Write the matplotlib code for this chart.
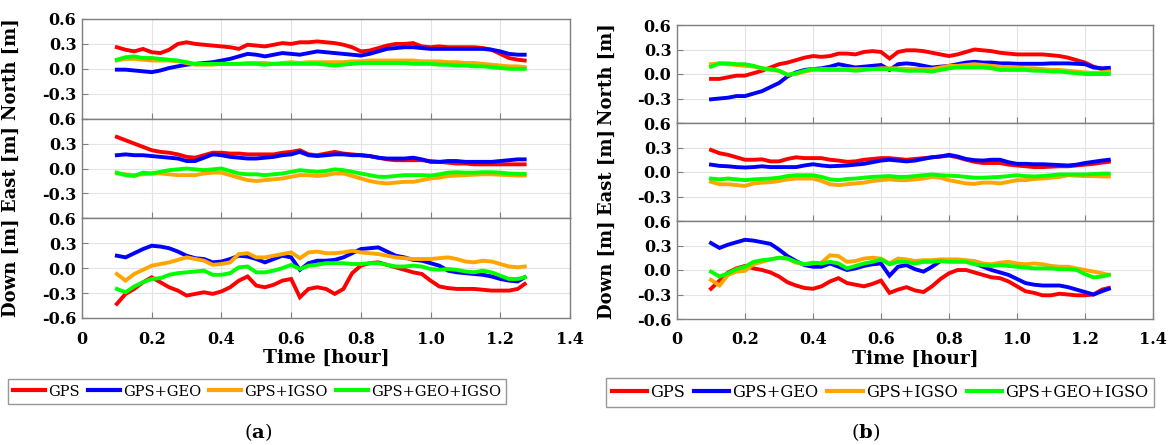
import numpy as np
import matplotlib
matplotlib.use("Agg")
import matplotlib.pyplot as plt
from matplotlib.lines import Line2D

# time grid [hour] shared by every series
time_h = [0.100, 0.125, 0.150, 0.175, 0.200, 0.225, 0.250, 0.275, 0.300, 0.325,
          0.350, 0.375, 0.400, 0.425, 0.450, 0.475, 0.500, 0.525, 0.550, 0.575,
          0.600, 0.625, 0.650, 0.675, 0.700, 0.725, 0.750, 0.775, 0.800, 0.825,
          0.850, 0.875, 0.900, 0.925, 0.950, 0.975, 1.000, 1.025, 1.050, 1.075,
          1.100, 1.125, 1.150, 1.175, 1.200, 1.225, 1.250, 1.270]

series_names = ["GPS", "GPS+GEO", "GPS+IGSO", "GPS+GEO+IGSO"]
series_colors = ["#ff0000", "#0000ff", "#ffa500", "#00ff00"]
component_labels = ["North [m]", "East [m]", "Down [m]"]
panel_labels = ["a", "b"]
x_ticks = [0, 0.2, 0.4, 0.6, 0.8, 1.0, 1.2, 1.4]
x_tick_labels = ["0", "0.2", "0.4", "0.6", "0.8", "1.0", "1.2", "1.4"]
y_ticks = [-0.6, -0.3, 0.0, 0.3, 0.6]
y_tick_labels = ["-0.6", "-0.3", "0.0", "0.3", "0.6"]

# ---- panel (a) ----
a_north_gps = [0.26, 0.23, 0.21, 0.24, 0.20, 0.19, 0.23, 0.30, 0.32, 0.30, 0.29, 0.28, 0.27, 0.26, 0.24, 0.29,
               0.28, 0.27, 0.29, 0.31, 0.30, 0.32, 0.32, 0.33, 0.32, 0.31, 0.29, 0.26, 0.21, 0.22, 0.25, 0.28,
               0.30, 0.30, 0.31, 0.27, 0.26, 0.27, 0.26, 0.26, 0.26, 0.26, 0.25, 0.23, 0.18, 0.13, 0.11, 0.10]
a_north_geo = [-0.01, -0.01, -0.02, -0.03, -0.04, -0.02, 0.01, 0.03, 0.05, 0.06, 0.07, 0.08, 0.10, 0.12, 0.15, 0.18,
               0.17, 0.15, 0.17, 0.19, 0.18, 0.17, 0.19, 0.21, 0.20, 0.19, 0.18, 0.17, 0.16, 0.18, 0.21, 0.24,
               0.25, 0.26, 0.26, 0.25, 0.24, 0.24, 0.24, 0.24, 0.24, 0.24, 0.24, 0.23, 0.21, 0.18, 0.17, 0.17]
a_north_igso = [0.10, 0.12, 0.12, 0.11, 0.10, 0.10, 0.10, 0.09, 0.07, 0.05, 0.05, 0.05, 0.06, 0.06, 0.06, 0.07,
                0.07, 0.07, 0.06, 0.07, 0.08, 0.07, 0.08, 0.08, 0.08, 0.08, 0.08, 0.09, 0.09, 0.10, 0.10, 0.10,
                0.10, 0.10, 0.10, 0.09, 0.09, 0.09, 0.08, 0.08, 0.07, 0.07, 0.06, 0.05, 0.04, 0.03, 0.03, 0.02]
a_north_all = [0.11, 0.14, 0.15, 0.13, 0.13, 0.12, 0.11, 0.10, 0.08, 0.06, 0.06, 0.06, 0.06, 0.06, 0.06, 0.06,
               0.06, 0.05, 0.06, 0.06, 0.06, 0.06, 0.06, 0.06, 0.05, 0.04, 0.05, 0.06, 0.07, 0.07, 0.07, 0.07,
               0.07, 0.07, 0.06, 0.06, 0.06, 0.05, 0.05, 0.04, 0.04, 0.03, 0.03, 0.02, 0.01, 0.00, 0.00, 0.00]

a_east_gps = [0.38, 0.34, 0.30, 0.26, 0.22, 0.20, 0.19, 0.17, 0.14, 0.13, 0.16, 0.19, 0.19, 0.18, 0.18, 0.17,
              0.17, 0.17, 0.17, 0.19, 0.20, 0.22, 0.17, 0.16, 0.18, 0.20, 0.18, 0.17, 0.16, 0.15, 0.13, 0.11,
              0.10, 0.10, 0.10, 0.10, 0.09, 0.08, 0.07, 0.06, 0.06, 0.05, 0.05, 0.05, 0.05, 0.05, 0.05, 0.05]
a_east_geo = [0.16, 0.17, 0.16, 0.16, 0.15, 0.14, 0.13, 0.12, 0.09, 0.09, 0.13, 0.17, 0.16, 0.14, 0.13, 0.12,
              0.12, 0.13, 0.14, 0.16, 0.17, 0.20, 0.16, 0.15, 0.16, 0.17, 0.17, 0.16, 0.16, 0.15, 0.13, 0.12,
              0.12, 0.12, 0.13, 0.11, 0.08, 0.08, 0.09, 0.09, 0.08, 0.08, 0.08, 0.08, 0.09, 0.10, 0.11, 0.11]
a_east_igso = [-0.06, -0.07, -0.08, -0.07, -0.06, -0.06, -0.07, -0.08, -0.08, -0.08, -0.06, -0.05, -0.05, -0.08,
               -0.11, -0.14, -0.15, -0.14, -0.13, -0.12, -0.10, -0.08, -0.08, -0.09, -0.08, -0.06, -0.06, -0.09,
               -0.12, -0.15, -0.17, -0.18, -0.17, -0.16, -0.16, -0.14, -0.12, -0.11, -0.09, -0.085, -0.08,
               -0.075, -0.07, -0.07, -0.075, -0.08, -0.085, -0.085]
a_east_all = [-0.05, -0.08, -0.09, -0.05, -0.06, -0.04, -0.02, -0.01, 0.00, -0.01, -0.02, -0.01, 0.00, -0.03,
              -0.06, -0.07, -0.07, -0.08, -0.07, -0.06, -0.04, -0.02, -0.03, -0.04, -0.03, -0.01, -0.02, -0.04,
              -0.06, -0.08, -0.10, -0.10, -0.09, -0.08, -0.08, -0.08, -0.085, -0.07, -0.05, -0.045, -0.05,
              -0.05, -0.045, -0.045, -0.05, -0.06, -0.065, -0.065]

a_down_gps = [-0.43, -0.31, -0.25, -0.17, -0.11, -0.17, -0.23, -0.27, -0.33, -0.31, -0.29, -0.31, -0.28, -0.23,
              -0.15, -0.10, -0.21, -0.23, -0.20, -0.15, -0.13, -0.35, -0.25, -0.23, -0.25, -0.31, -0.25, -0.06,
              0.03, 0.06, 0.07, 0.04, 0.01, -0.02, -0.05, -0.07, -0.15, -0.22, -0.24, -0.25, -0.25, -0.25,
              -0.26, -0.27, -0.27, -0.27, -0.25, -0.19]
a_down_geo = [0.15, 0.13, 0.18, 0.23, 0.27, 0.26, 0.24, 0.20, 0.15, 0.12, 0.11, 0.07, 0.08, 0.11, 0.15, 0.14,
              0.11, 0.07, 0.11, 0.15, 0.13, -0.02, 0.06, 0.09, 0.09, 0.10, 0.13, 0.18, 0.23, 0.24, 0.25, 0.20,
              0.15, 0.13, 0.10, 0.09, 0.06, 0.03, -0.03, -0.05, -0.06, -0.07, -0.08, -0.10, -0.13, -0.15,
              -0.16, -0.11]
a_down_igso = [-0.07, -0.15, -0.07, -0.02, 0.03, 0.05, 0.07, 0.10, 0.13, 0.11, 0.09, 0.04, 0.05, 0.07, 0.17,
               0.18, 0.13, 0.13, 0.15, 0.17, 0.19, 0.12, 0.19, 0.20, 0.18, 0.18, 0.19, 0.21, 0.19, 0.18, 0.17,
               0.15, 0.13, 0.12, 0.11, 0.11, 0.11, 0.12, 0.13, 0.11, 0.08, 0.07, 0.09, 0.08, 0.05, 0.02, 0.01,
               0.02]
a_down_all = [-0.25, -0.29, -0.22, -0.17, -0.13, -0.12, -0.08, -0.06, -0.05, -0.04, -0.03, -0.08, -0.08, -0.06,
              0.01, 0.02, -0.05, -0.05, -0.03, 0.00, 0.04, -0.01, 0.03, 0.04, 0.06, 0.06, 0.06, 0.05, 0.05,
              0.06, 0.06, 0.04, 0.02, 0.02, 0.03, 0.02, -0.01, -0.02, -0.01, -0.02, -0.04, -0.05, -0.03, -0.05,
              -0.09, -0.13, -0.13, -0.11]

# ---- panel (b) ----
b_north_gps = [-0.06, -0.06, -0.04, -0.02, -0.02, 0.01, 0.04, 0.08, 0.12, 0.14, 0.17, 0.20, 0.22, 0.21, 0.22,
               0.25, 0.25, 0.24, 0.27, 0.28, 0.27, 0.19, 0.27, 0.29, 0.29, 0.28, 0.26, 0.24, 0.22, 0.24, 0.27,
               0.30, 0.29, 0.28, 0.26, 0.25, 0.24, 0.24, 0.24, 0.24, 0.23, 0.22, 0.20, 0.17, 0.14, 0.09, 0.06,
               0.05]
b_north_geo = [-0.31, -0.30, -0.29, -0.27, -0.27, -0.24, -0.21, -0.16, -0.11, -0.03, 0.02, 0.05, 0.06, 0.07,
               0.09, 0.12, 0.10, 0.08, 0.09, 0.10, 0.11, 0.05, 0.12, 0.13, 0.12, 0.10, 0.08, 0.09, 0.10, 0.12,
               0.14, 0.15, 0.14, 0.14, 0.13, 0.13, 0.125, 0.125, 0.125, 0.125, 0.13, 0.13, 0.13, 0.125, 0.12,
               0.08, 0.07, 0.075]
b_north_igso = [0.12, 0.13, 0.12, 0.11, 0.10, 0.09, 0.07, 0.05, 0.04, -0.01, 0.00, 0.03, 0.05, 0.06, 0.06, 0.06,
                0.06, 0.06, 0.06, 0.06, 0.07, 0.07, 0.07, 0.06, 0.06, 0.06, 0.06, 0.08, 0.10, 0.10, 0.11, 0.12,
                0.11, 0.10, 0.09, 0.08, 0.08, 0.07, 0.07, 0.06, 0.05, 0.05, 0.04, 0.03, 0.02, 0.01, 0.02, 0.03]
b_north_all = [0.09, 0.13, 0.13, 0.12, 0.12, 0.10, 0.07, 0.06, 0.04, -0.01, 0.01, 0.04, 0.06, 0.05, 0.05, 0.05,
               0.05, 0.04, 0.05, 0.06, 0.06, 0.06, 0.05, 0.04, 0.04, 0.04, 0.03, 0.05, 0.07, 0.08, 0.08, 0.08,
               0.08, 0.07, 0.05, 0.05, 0.05, 0.05, 0.04, 0.04, 0.03, 0.03, 0.02, 0.01, 0.00, 0.00, 0.00, 0.00]

b_east_gps = [0.27, 0.23, 0.21, 0.18, 0.15, 0.15, 0.155, 0.13, 0.13, 0.16, 0.18, 0.17, 0.17, 0.17, 0.15, 0.14,
              0.125, 0.13, 0.15, 0.16, 0.17, 0.17, 0.16, 0.15, 0.16, 0.17, 0.18, 0.19, 0.20, 0.18, 0.15, 0.125,
              0.11, 0.11, 0.11, 0.09, 0.08, 0.07, 0.06, 0.06, 0.065, 0.07, 0.07, 0.08, 0.09, 0.10, 0.115, 0.125]
b_east_geo = [0.09, 0.075, 0.07, 0.06, 0.055, 0.06, 0.07, 0.06, 0.06, 0.06, 0.06, 0.08, 0.095, 0.08, 0.07, 0.075,
              0.08, 0.09, 0.10, 0.12, 0.14, 0.15, 0.14, 0.13, 0.14, 0.16, 0.18, 0.19, 0.21, 0.19, 0.16, 0.145,
              0.14, 0.15, 0.15, 0.12, 0.10, 0.10, 0.095, 0.095, 0.09, 0.085, 0.08, 0.09, 0.11, 0.125, 0.14, 0.15]
b_east_igso = [-0.12, -0.15, -0.15, -0.16, -0.17, -0.14, -0.13, -0.125, -0.11, -0.09, -0.08, -0.08, -0.08,
               -0.11, -0.15, -0.16, -0.15, -0.14, -0.13, -0.11, -0.10, -0.09, -0.10, -0.10, -0.09, -0.08,
               -0.06, -0.07, -0.10, -0.12, -0.14, -0.145, -0.13, -0.13, -0.14, -0.12, -0.10, -0.10, -0.085,
               -0.08, -0.07, -0.06, -0.04, -0.045, -0.05, -0.05, -0.055, -0.055]
b_east_all = [-0.08, -0.09, -0.08, -0.09, -0.10, -0.09, -0.085, -0.08, -0.07, -0.05, -0.04, -0.04, -0.04,
              -0.06, -0.09, -0.10, -0.085, -0.08, -0.07, -0.06, -0.055, -0.05, -0.06, -0.06, -0.05, -0.04,
              -0.03, -0.04, -0.045, -0.05, -0.06, -0.07, -0.07, -0.065, -0.06, -0.05, -0.04, -0.05, -0.055,
              -0.05, -0.04, -0.03, -0.03, -0.03, -0.03, -0.025, -0.02, -0.02]

b_down_gps = [-0.23, -0.13, -0.03, 0.02, 0.05, 0.02, 0.00, -0.03, -0.08, -0.15, -0.19, -0.22, -0.23, -0.20,
              -0.14, -0.10, -0.16, -0.18, -0.20, -0.17, -0.13, -0.28, -0.24, -0.21, -0.25, -0.27, -0.20, -0.11,
              -0.04, 0.00, 0.00, -0.03, -0.06, -0.09, -0.10, -0.14, -0.20, -0.26, -0.28, -0.31, -0.31, -0.29,
              -0.30, -0.31, -0.31, -0.30, -0.24, -0.22]
b_down_geo = [0.33, 0.27, 0.31, 0.34, 0.37, 0.36, 0.34, 0.32, 0.25, 0.17, 0.11, 0.06, 0.04, 0.04, 0.08, 0.04,
              0.00, 0.02, 0.05, 0.07, 0.08, -0.07, 0.04, 0.06, 0.01, -0.02, 0.04, 0.11, 0.12, 0.12, 0.11, 0.08,
              0.04, 0.00, -0.03, -0.06, -0.11, -0.16, -0.18, -0.19, -0.19, -0.19, -0.21, -0.24, -0.27, -0.30,
              -0.26, -0.23]
b_down_igso = [-0.12, -0.19, -0.06, -0.02, -0.01, 0.07, 0.10, 0.13, 0.15, 0.14, 0.09, 0.07, 0.08, 0.09, 0.18,
               0.17, 0.10, 0.11, 0.14, 0.15, 0.14, 0.08, 0.14, 0.13, 0.11, 0.12, 0.12, 0.13, 0.13, 0.13, 0.12,
               0.11, 0.08, 0.07, 0.09, 0.10, 0.08, 0.07, 0.08, 0.07, 0.05, 0.04, 0.04, 0.02, 0.00, -0.02, -0.04,
               -0.06]
b_down_all = [-0.02, -0.08, -0.04, 0.01, 0.04, 0.10, 0.12, 0.13, 0.15, 0.14, 0.10, 0.07, 0.09, 0.08, 0.10, 0.08,
              0.02, 0.05, 0.08, 0.10, 0.13, 0.07, 0.10, 0.10, 0.08, 0.10, 0.10, 0.11, 0.10, 0.10, 0.10, 0.07,
              0.06, 0.05, 0.06, 0.05, 0.04, 0.03, 0.02, 0.02, 0.02, 0.01, 0.01, 0.00, -0.05, -0.09, -0.08, -0.06]

panels = [
    [[a_north_gps, a_north_geo, a_north_igso, a_north_all],
     [a_east_gps, a_east_geo, a_east_igso, a_east_all],
     [a_down_gps, a_down_geo, a_down_igso, a_down_all]],
    [[b_north_gps, b_north_geo, b_north_igso, b_north_all],
     [b_east_gps, b_east_geo, b_east_igso, b_east_all],
     [b_down_gps, b_down_geo, b_down_igso, b_down_all]],
]

W, H = 1170, 445
# axes boxes in pixels: left, right, top, bottom
boxes = [(82, 570, 19, 318), (677, 1153, 25, 319)]
legend_centers = [(257, 391.5), (880, 392.5)]
legend_sizes = [10.5, 11.6]
label_centers = [(258, 432), (866, 432)]

plt.rcParams["font.family"] = ["DejaVu Serif"]
plt.rcParams["mathtext.fontset"] = "dejavuserif"

fig = plt.figure(figsize=(W / 100, H / 100), dpi=100)
spine_color = "#7f7f7f"

for p, (left, right, top, bottom) in enumerate(boxes):
    sub_h = (bottom - top) / 3
    for row in range(3):
        y0 = top + row * sub_h
        ax = fig.add_axes([left / W, 1 - (y0 + sub_h) / H, (right - left) / W, sub_h / H])
        for values, color in zip(panels[p][row], series_colors):
            ax.plot(time_h, values, color=color, lw=2.8, solid_joinstyle="miter")
        ax.set_xlim(0, 1.4)
        ax.set_ylim(-0.6, 0.6)
        ax.set_xticks(x_ticks)
        ax.set_yticks(y_ticks)
        labels = list(y_tick_labels)
        if row < 2:
            labels[0] = ""
        ax.set_yticklabels(labels, fontsize=11.5, fontweight="bold")
        if row == 2:
            ax.set_xticklabels(x_tick_labels, fontsize=11.5, fontweight="bold")
            ax.set_xlabel("Time [hour]", fontsize=13.5, fontweight="bold", labelpad=1)
        else:
            ax.set_xticklabels([])
        ax.tick_params(direction="in", length=4, color=spine_color, width=0.8)
        ax.tick_params(axis="y", pad=4)
        ax.tick_params(axis="x", pad=9)
        ax.grid(True, color="#e3e3e3", lw=0.8)
        ax.set_axisbelow(True)
        for s in ax.spines.values():
            s.set_color(spine_color)
            s.set_linewidth(1.0)
        ax.set_ylabel(component_labels[row], fontsize=13, fontweight="bold")
        ax.yaxis.set_label_coords(-0.128, 0.5)

    handles = [Line2D([], [], color=c, lw=3.0) for c in series_colors]
    lx, ly = legend_centers[p]
    leg = fig.legend(handles, series_names, loc="center", bbox_to_anchor=(lx / W, 1 - ly / H),
                     ncol=4, fontsize=legend_sizes[p], frameon=True, fancybox=False,
                     edgecolor=spine_color, handlelength=2.2, handletextpad=0.2, columnspacing=0.55,
                     borderpad=0.35, borderaxespad=0)
    leg.get_frame().set_linewidth(1.0)

    tx, ty = label_centers[p]
    fig.text(tx / W, 1 - ty / H, "($\\mathbf{%s}$)" % panel_labels[p], ha="center", va="center",
             fontsize=14)

fig.savefig("out.png", dpi=100)
